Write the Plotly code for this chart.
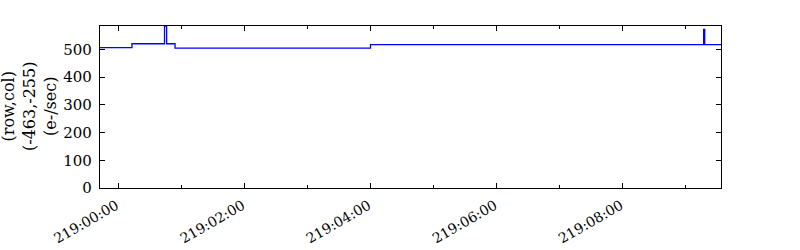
import plotly.graph_objects as go

# seconds after 219:00:00
times = [-17.4, 13, 44, 46, 54, 240, 557, 558, 573.5]
values = [506, 520, 584, 520, 504, 517, 572, 517, 517]

tick_secs = [0, 120, 240, 360, 480]
tick_labels = ["219:00:00", "219:02:00", "219:04:00", "219:06:00", "219:08:00"]
minor_secs = [60, 180, 300, 420, 540]
y_ticks = [0, 100, 200, 300, 400, 500]

x_range = [-17.4, 573.5]
y_range = [0, 584]

fig = go.Figure()
fig.add_trace(go.Scatter(x=times, y=values, mode="lines", line_shape="hv",
                         line=dict(color="#0000ff", width=1.3), showlegend=False,
                         hoverinfo="skip"))

font = dict(family="DejaVu Serif", size=15, color="black")
fig.update_layout(
    width=800, height=250,
    margin=dict(l=100, r=79, t=26, b=62),
    paper_bgcolor="white", plot_bgcolor="white",
    font=font,
    xaxis=dict(range=x_range, tickmode="array", tickvals=tick_secs, ticktext=tick_labels,
               tickangle=-30, ticks="inside", ticklen=5, tickwidth=1, tickcolor="black",
               showline=True, linecolor="black", linewidth=1.2, mirror="allticks",
               showgrid=False, zeroline=False, ticklabelstandoff=3, ticklabelshift=-2,
               automargin=False,
               minor=dict(tickmode="array", tickvals=minor_secs, ticks="inside",
                          ticklen=3, tickcolor="black", showgrid=False),
               tickfont=dict(family="DejaVu Serif", size=14, color="black")),
    yaxis=dict(range=y_range, tickmode="array", tickvals=y_ticks,
               ticks="inside", ticklen=5, tickwidth=1, tickcolor="black",
               showline=True, linecolor="black", linewidth=1.2, mirror="allticks",
               showgrid=False, zeroline=False, tickfont=font, ticklabelstandoff=4,
               automargin=False),
)

fig.add_annotation(text="(row,col)<br>(-463,-255)<br>(e-/sec)", xref="paper", yref="paper",
                   x=(29 - 100) / 621, y=0.5, xanchor="center", yanchor="middle",
                   textangle=-90, showarrow=False, font=dict(family="DejaVu Serif", size=16),
                   align="center")

fig.write_html("out.html")
